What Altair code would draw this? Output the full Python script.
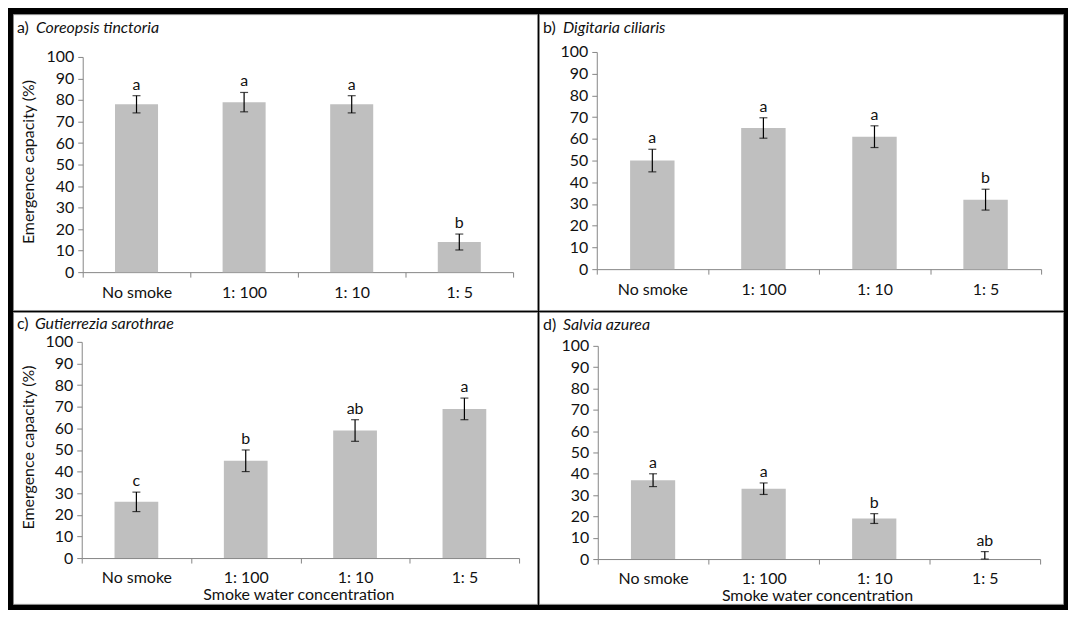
import altair as alt
import pandas as pd

categories = ["No smoke", "1: 100", "1: 10", "1: 5"]
panel_tags = ["a)", "b)", "c)", "d)"]
species = ["Coreopsis tinctoria", "Digitaria ciliaris", "Gutierrezia sarothrae", "Salvia azurea"]

means_a = [78, 79, 78, 14]
errs_a = [4, 4.5, 4, 3.7]
letters_a = ["a", "a", "a", "b"]

means_b = [50, 65, 61, 32]
errs_b = [5.2, 4.7, 5, 4.8]
letters_b = ["a", "a", "a", "b"]

means_c = [26, 45, 59, 69]
errs_c = [4.5, 5, 5, 5]
letters_c = ["c", "b", "ab", "a"]

means_d = [37, 33, 19, 0]
errs_d = [3, 2.7, 2.3, 3.5]
letters_d = ["a", "a", "b", "ab"]

y_ticks = list(range(0, 101, 10))
y_title = "Emergence capacity (%)"
x_title = "Smoke water concentration"

FONT = "Lato"
FS = 16
AXIS_GRAY = "#868686"
BAR_GRAY = "#bfbfbf"
TEXT = "#111111"
PW = 526


def panel(i, means, errs, letters, H, ax, xr, y100, y0, tag_w, ytitle, xtitle, title_y):
    df = pd.DataFrame({
        "cat": categories,
        "mean": means,
        "lo": [max(0, m - e) for m, e in zip(means, errs)],
        "hi": [m + e for m, e in zip(means, errs)],
        "letter": letters,
    })
    xaxis = dict(orient="bottom", offset=y0 - H, tickBand="extent", labelAngle=0,
                 labelPadding=7, labelFont=FONT, labelFontSize=FS, labelColor=TEXT,
                 labelOverlap=False, domainColor=AXIS_GRAY, tickColor=AXIS_GRAY,
                 tickSize=5, grid=False, title=None)
    if xtitle:
        xaxis.update(title=x_title, titleFont=FONT, titleFontSize=FS, titleFontWeight="normal",
                     titleColor=TEXT, titleX=(ax + xr) / 2 - 2, titleY=37,
                     titleAlign="center", titleBaseline="middle")
    yaxis = dict(orient="left", offset=-ax, values=y_ticks, labelFont=FONT, labelFontSize=FS,
                 labelColor=TEXT, labelPadding=4, labelOverlap=False, labelFlush=False,
                 domainColor=AXIS_GRAY, tickColor=AXIS_GRAY,
                 tickSize=5, grid=False, title=None)
    if ytitle:
        yaxis.update(title=y_title, titleFont=FONT, titleFontSize=FS, titleFontWeight="normal",
                     titleColor=TEXT, titleX=16 - ax, titleY=(y0 + y100) / 2 - 3,
                     titleAngle=270, titleAlign="center", titleBaseline="middle")

    xscale = alt.Scale(domain=categories, range=[ax, xr], paddingInner=0, paddingOuter=0)
    yscale = alt.Scale(domain=[0, 100], range=[y0, y100], nice=False, zero=True)

    def X():
        return alt.X("cat:N", sort=categories, scale=xscale, axis=alt.Axis(**xaxis))

    def Y(field):
        return alt.Y(field, scale=yscale, axis=alt.Axis(**yaxis))

    base = alt.Chart(df)
    bars = base.mark_bar(color=BAR_GRAY, width=alt.RelativeBandSize(0.4)).encode(
        x=X(), y=Y("mean:Q"))
    rule = base.mark_rule(color="black", strokeWidth=1.2).encode(
        x=X(), y=Y("lo:Q"), y2="hi:Q")
    cap_hi = base.mark_tick(color="black", size=8, thickness=1.2).encode(x=X(), y=Y("hi:Q"))
    cap_lo = base.mark_tick(color="black", size=8, thickness=1.2).encode(x=X(), y=Y("lo:Q"))
    txt = base.mark_text(font=FONT, fontSize=FS, color=TEXT, baseline="bottom", dy=-3).encode(
        x=X(), y=Y("hi:Q"), text="letter:N")

    tdf = pd.DataFrame({"tag": [panel_tags[i]], "sp": [species[i]]})
    tag = alt.Chart(tdf).mark_text(font=FONT, fontSize=FS, color=TEXT, align="left",
                                   baseline="middle").encode(
        text="tag:N", x=alt.value(4), y=alt.value(title_y))
    sp = alt.Chart(tdf).mark_text(font=FONT, fontSize=FS, fontStyle="italic", color=TEXT,
                                  align="left", baseline="middle").encode(
        text="sp:N", x=alt.value(4 + tag_w), y=alt.value(title_y))

    return alt.layer(bars, rule, cap_hi, cap_lo, txt, tag, sp).properties(width=PW, height=H)


pa = panel(0, means_a, errs_a, letters_a, 297, 70, 502, 43, 259, 19, True, False, 14)
pb = panel(1, means_b, errs_b, letters_b, 297, 58, 504, 38, 256, 20, False, False, 14)
pc = panel(2, means_c, errs_c, letters_c, 293, 69, 508, 30, 247, 18, True, True, 12)
pd_ = panel(3, means_d, errs_d, letters_d, 293, 59, 503, 34, 248, 20, False, True, 13)

chart = alt.vconcat(
    alt.hconcat(pa, pb, spacing=0),
    alt.hconcat(pc, pd_, spacing=0),
    spacing=0,
).properties(background="black", padding=4).configure_view(
    fill="white", stroke="#8c8c8c", strokeWidth=1
).configure_concat(spacing=0)

chart.save("out.html", embed_options={"renderer": "svg", "actions": False})
